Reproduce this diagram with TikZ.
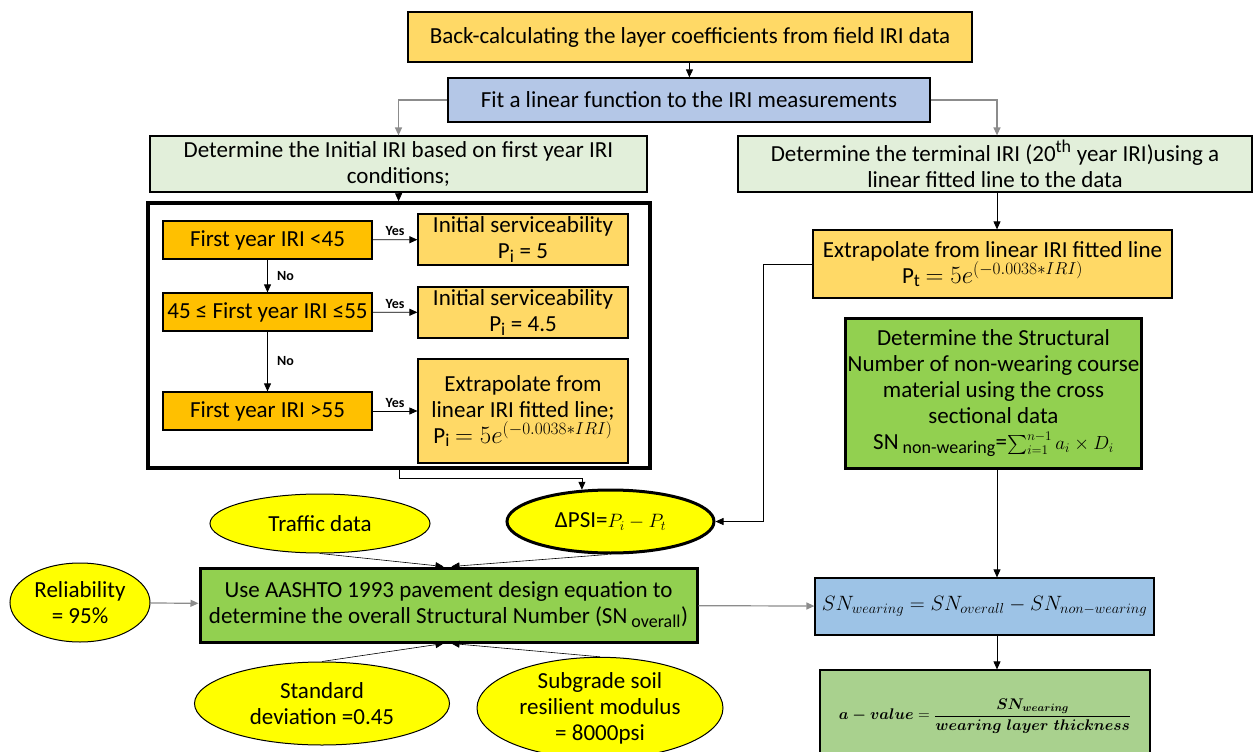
\documentclass[tikz,border=0pt]{standalone}
\usepackage{amsmath,amssymb}
\usepackage{fontspec}
\setmainfont{Carlito}
\DeclareMathSizes{23}{25}{18}{14}
\usetikzlibrary{arrows.meta,shapes.geometric}

\definecolor{cgold}{HTML}{FFD966}
\definecolor{corange}{HTML}{FFC000}
\definecolor{cfit}{HTML}{B4C7E7}
\definecolor{cpale}{HTML}{E2EFDA}
\definecolor{cgreen}{HTML}{92D050}
\definecolor{cblue}{HTML}{9DC3E6}
\definecolor{cgreentwo}{HTML}{A9D18E}
\definecolor{cyellow}{HTML}{FFFF00}
\definecolor{cline}{HTML}{8C8C8C}

\begin{document}
\begin{tikzpicture}[x=1pt,y=-1pt]
\tikzset{
  box/.style={rectangle,draw,line width=1.2pt,inner sep=2pt,align=center,font=\fontsize{23}{26}\selectfont},
  bigbox/.style={box,line width=3pt},
  oval/.style={ellipse,draw,line width=1pt,fill=cyellow,inner sep=0pt,align=center,font=\fontsize{23}{26}\selectfont},
  directed/.style={-{Triangle[length=8pt,width=7pt]},line width=0.8pt},
  greyline/.style={directed,draw=cline,line width=1.2pt},
  answer/.style={font=\fontsize{14}{16}\selectfont\bfseries}
}
\useasboundingbox (0,0) rectangle (1254,752);
\coordinate (c_spine) at (997,0);
% top of the chart
\node[box,fill=cgold,minimum width=564,minimum height=50] (n_top) at (690,37) {Back-calculating the layer coefficients from field IRI data};
\node[box,fill=cfit,minimum width=482,minimum height=44] (n_fit) at (689,100) {Fit a linear function to the IRI measurements};
\node[box,fill=cpale,minimum width=497,minimum height=56] (n_initial) at (398.5,164) {Determine the Initial IRI based on first year IRI\\conditions;};
\node[box,fill=cpale,minimum width=514,minimum height=56] (n_terminal) at (995,164) {Determine the terminal IRI (20\textsuperscript{th} year IRI)using a\\linear fitted line to the data};
% initial serviceability block
\node[draw,line width=3.5pt,minimum width=502,minimum height=265] (n_frame) at (399,335.5) {};
\node[box,fill=corange,minimum width=209,minimum height=38] (n_lt45) at (267.5,240) {First year IRI <45};
\node[box,fill=corange,minimum width=209,minimum height=38] (n_mid) at (267.5,312) {45 ≤ First year IRI ≤55};
\node[box,fill=corange,minimum width=209,minimum height=38] (n_gt55) at (267.5,411) {First year IRI >55};
\node[box,fill=cgold,minimum width=210,minimum height=51] (n_p5) at (523,239.5) {Initial serviceability\\P\textsubscript{i} = 5};
\node[box,fill=cgold,minimum width=210,minimum height=51] (n_p45) at (523,312.5) {Initial serviceability\\P\textsubscript{i} = 4.5};
\node[box,fill=cgold,minimum width=210,minimum height=104] (n_pext) at (523,411) {Extrapolate from\\linear IRI fitted line;\\P\textsubscript{i} $= 5e^{(-0.0038*IRI)}$};
% terminal side
\node[box,fill=cgold,minimum width=359,minimum height=68] (n_pt) at (992.5,264) {Extrapolate from linear IRI fitted line\\P\textsubscript{t} $= 5e^{(-0.0038*IRI)}$};
\node[bigbox,fill=cgreen,minimum width=289,minimum height=150] (n_sn) at (993.5,393) {Determine the Structural\\Number of non-wearing course\\material using the cross\\sectional data\\SN\textsubscript{ non-wearing}={\fontsize{17.28}{26}\selectfont\scalebox{1.1}{$\sum_{i=1}^{n-1}a_i\times D_i$}}};
% design inputs
\node[oval,line width=3pt,minimum width=207,minimum height=63] (n_dpsi) at (610.5,521.5) {ΔPSI={\fontsize{17.28}{26}\selectfont\scalebox{1.12}{$P_i-P_t$}}};
\node[oval,minimum width=220,minimum height=59] (n_traffic) at (320,523.5) {Traffic data};
\node[oval,minimum width=140,minimum height=79] (n_rel) at (80,602.5) {Reliability\\= 95\%};
\node[oval,minimum width=255,minimum height=83] (n_std) at (322,703.5) {Standard\\deviation =0.45};
\node[oval,minimum width=246,minimum height=100] (n_subgrade) at (600,708) {Subgrade soil\\resilient modulus\\= 8000psi};
\node[bigbox,fill=cgreen,minimum width=497,minimum height=74] (n_aashto) at (448.5,605) {Use AASHTO 1993 pavement design equation to\\determine the overall Structural Number (SN\textsubscript{ overall})};
% results
\node[box,fill=cblue,minimum width=339,minimum height=57,font=\fontsize{20}{24}\selectfont] (n_snw) at (984.5,606.5) {$SN_{wearing}=SN_{overall}-SN_{non-wearing}$};
\node[box,fill=cgreentwo,minimum width=330,minimum height=92,font=\fontsize{14.4}{18}\selectfont] (n_aval) at (985,716) {\scalebox{1.07}{$\boldsymbol{a-value}=\dfrac{\boldsymbol{SN_{wearing}}}{\boldsymbol{wearing\;layer\;thickness}}$}};
% connectors
\draw[directed] (n_top) -- (n_fit);
\draw[greyline] (n_fit.west) -| (n_initial.north);
\draw[greyline] (n_fit.east) -| (n_terminal.north -| c_spine);
\draw[directed] (n_initial) -- (n_frame);
\draw[directed] (n_lt45) -- node[answer,above] {Yes} (n_p5);
\draw[directed] (n_mid) -- node[answer,above] {Yes} (n_p45);
\draw[directed] (n_gt55) -- node[answer,above] {Yes} (n_pext);
\draw[directed] (n_lt45) -- node[answer,right=6pt] {No} (n_mid);
\draw[directed] (n_mid) -- node[answer,right=6pt] {No} (n_gt55);
\draw[directed] (n_frame.south) -- ++(0,9) -| (n_dpsi.132);
\draw[directed] (n_terminal.south -| c_spine) -- (n_pt.north -| c_spine);
\draw[directed] (n_pt.west) -- ++(-49,0) |- (n_dpsi.east);
\draw[directed] (n_sn.south -| c_spine) -- (n_snw.north -| c_spine);
\draw[directed] (n_snw.south -| c_spine) -- (n_aval.north -| c_spine);
\draw[greyline] (n_rel) -- (n_aashto);
\draw[greyline] (n_aashto) -- (n_snw);
\draw[directed,line width=0.6pt] (n_traffic.south) -- ([xshift=-5pt]n_aashto.north);
\draw[directed,line width=0.6pt] (n_dpsi.265) -- ([xshift=3pt]n_aashto.north);
\draw[directed,line width=0.6pt] (n_std.north) -- ([xshift=-5pt]n_aashto.south);
\draw[directed,line width=0.6pt] (n_subgrade.north) -- ([xshift=3pt]n_aashto.south);
\end{tikzpicture}
\end{document}
